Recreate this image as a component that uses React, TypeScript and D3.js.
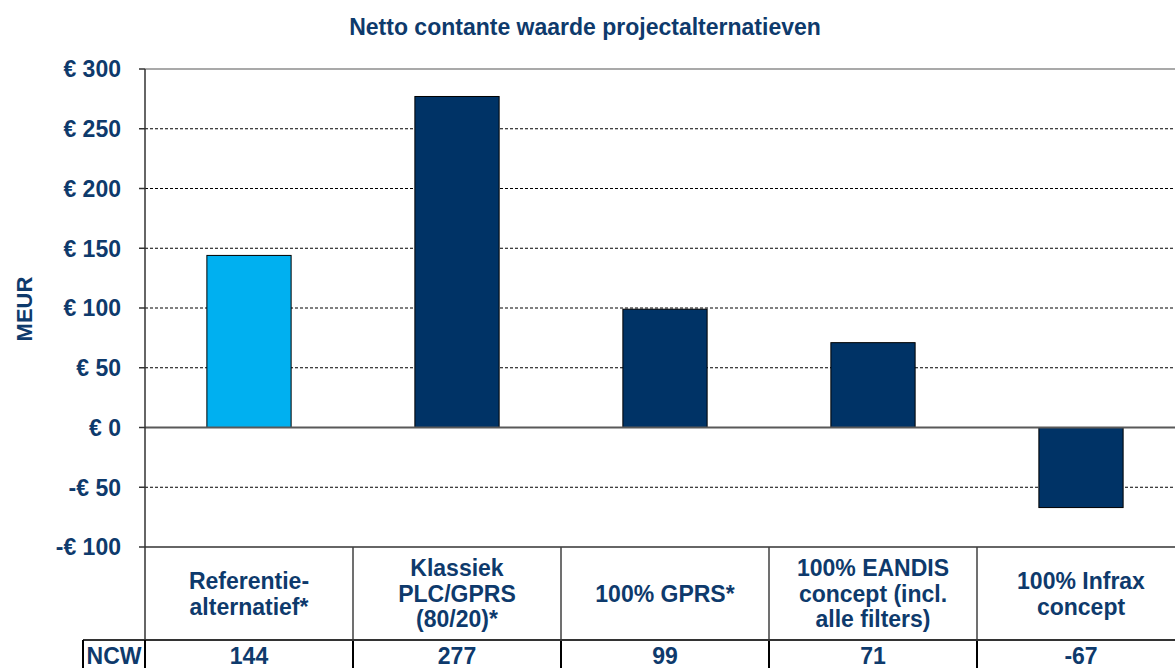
import React from "react";
import * as d3 from "d3";

const categories = ["ref", "klassiek", "gprs", "eandis", "infrax"];
const categoryLabels: string[][] = [
  ["Referentie-", "alternatief*"],
  ["Klassiek", "PLC/GPRS", "(80/20)*"],
  ["100% GPRS*"],
  ["100% EANDIS", "concept (incl.", "alle filters)"],
  ["100% Infrax", "concept"],
];
const values = [144, 277, 99, 71, -67];
const ncwLabels = ["144", "277", "99", "71", "-67"];
const barColors = ["#00B0F0", "#003366", "#003366", "#003366", "#003366"];
const yTicks = [300, 250, 200, 150, 100, 50, 0, -50, -100];
const yTickLabels = ["€ 300", "€ 250", "€ 200", "€ 150", "€ 100", "€ 50", "€ 0", "-€ 50", "-€ 100"];
const title = "Netto contante waarde projectalternatieven";
const yTitle = "MEUR";
const rowLabel = "NCW";

const W = 1175;
const H = 668;
const TEXT = "#0E3A6C";
const FONT = "Liberation Sans, Arial, sans-serif";

export default function App() {
  const axisX = 145;
  const plotRight = 1185;
  const y = d3.scaleLinear().domain([-100, 300]).range([547, 69]);
  const x = d3.scaleBand<string>().domain(categories).range([axisX, plotRight]).padding(0);
  const bw = x.bandwidth();
  const barW = bw * 0.405;
  const tableTop = y(-100);
  const rowSplit = 640;
  const ncwLeft = 83;
  const fs = 23;
  const ncwBaseline = 664;

  return (
    <svg
      width={W}
      height={H}
      viewBox={`0 0 ${W} ${H}`}
      style={{ position: "fixed", left: 0, top: 0, background: "#fff" }}
      fontFamily={FONT}
    >
      <rect x={0} y={0} width={W} height={H} fill="#fff" />
      <text x={585} y={35} textAnchor="middle" fontSize={23} fontWeight="bold" fill={TEXT}>
        {title}
      </text>

      {/* gridlines */}
      {yTicks.map((t) => {
        if (t === 0 || t === -100) return null;
        if (t === 300)
          return <line key={t} x1={axisX} x2={plotRight} y1={y(t)} y2={y(t)} stroke="#8c8c8c" strokeWidth={1.5} />;
        return (
          <line key={t} x1={axisX} x2={plotRight} y1={y(t)} y2={y(t)} stroke="#000" strokeWidth={1} strokeDasharray="3,2" />
        );
      })}

      {/* bars */}
      {values.map((v, i) => {
        const cx = (x(categories[i]) as number) + bw / 2;
        const y0 = y(0);
        const y1 = y(v);
        return (
          <rect
            key={i}
            x={cx - barW / 2}
            y={Math.min(y0, y1)}
            width={barW}
            height={Math.abs(y1 - y0)}
            fill={barColors[i]}
            stroke="#000"
            strokeWidth={1}
          />
        );
      })}

      {/* zero line */}
      <line x1={axisX} x2={plotRight} y1={y(0)} y2={y(0)} stroke="#595959" strokeWidth={2} />
      {/* -100 line / table top */}
      <line x1={axisX} x2={plotRight} y1={tableTop} y2={tableTop} stroke="#333" strokeWidth={1.5} />

      {/* y axis + ticks */}
      <line x1={axisX} x2={axisX} y1={y(300)} y2={H + 5} stroke="#333" strokeWidth={1.5} />
      {yTicks.map((t, i) => (
        <g key={t}>
          <line x1={axisX - 6} x2={axisX} y1={y(t)} y2={y(t)} stroke="#333" strokeWidth={1.5} />
          <text x={121} y={y(t)} dy="0.36em" textAnchor="end" fontSize={fs} fontWeight="bold" fill={TEXT}>
            {yTickLabels[i]}
          </text>
        </g>
      ))}

      <text
        transform={`translate(32, 309) rotate(-90)`}
        textAnchor="middle"
        fontSize={22}
        fontWeight="bold"
        fill={TEXT}
      >
        {yTitle}
      </text>

      {/* table */}
      {categories.map((c) => {
        const bx = (x(c) as number) + bw;
        return (
          <g key={c}>
            <line x1={bx} x2={bx} y1={tableTop} y2={rowSplit} stroke="#404040" strokeWidth={1.5} />
            <line x1={bx} x2={bx} y1={rowSplit} y2={H + 5} stroke="#000" strokeWidth={2} />
          </g>
        );
      })}
      <line x1={ncwLeft} x2={plotRight} y1={rowSplit} y2={rowSplit} stroke="#333" strokeWidth={2} />
      <line x1={ncwLeft} x2={ncwLeft} y1={rowSplit} y2={H + 5} stroke="#000" strokeWidth={2} />
      <line x1={axisX} x2={axisX} y1={rowSplit} y2={H + 5} stroke="#000" strokeWidth={2} />

      {categoryLabels.map((lines, i) => {
        const cx = (x(categories[i]) as number) + bw / 2;
        const lh = 25.5;
        const mid = (tableTop + rowSplit) / 2;
        const startY = mid - ((lines.length - 1) * lh) / 2;
        return (
          <text key={i} textAnchor="middle" fontSize={fs} fontWeight="bold" fill={TEXT}>
            {lines.map((l, j) => (
              <tspan key={j} x={cx} y={startY + j * lh} dy="0.36em">
                {l}
              </tspan>
            ))}
          </text>
        );
      })}

      <text x={(ncwLeft + axisX) / 2} y={ncwBaseline} textAnchor="middle" fontSize={fs} fontWeight="bold" fill={TEXT}>
        {rowLabel}
      </text>
      {ncwLabels.map((l, i) => {
        const cx = (x(categories[i]) as number) + bw / 2;
        return (
          <text key={i} x={cx} y={ncwBaseline} textAnchor="middle" fontSize={fs} fontWeight="bold" fill={TEXT}>
            {l}
          </text>
        );
      })}
    </svg>
  );
}
